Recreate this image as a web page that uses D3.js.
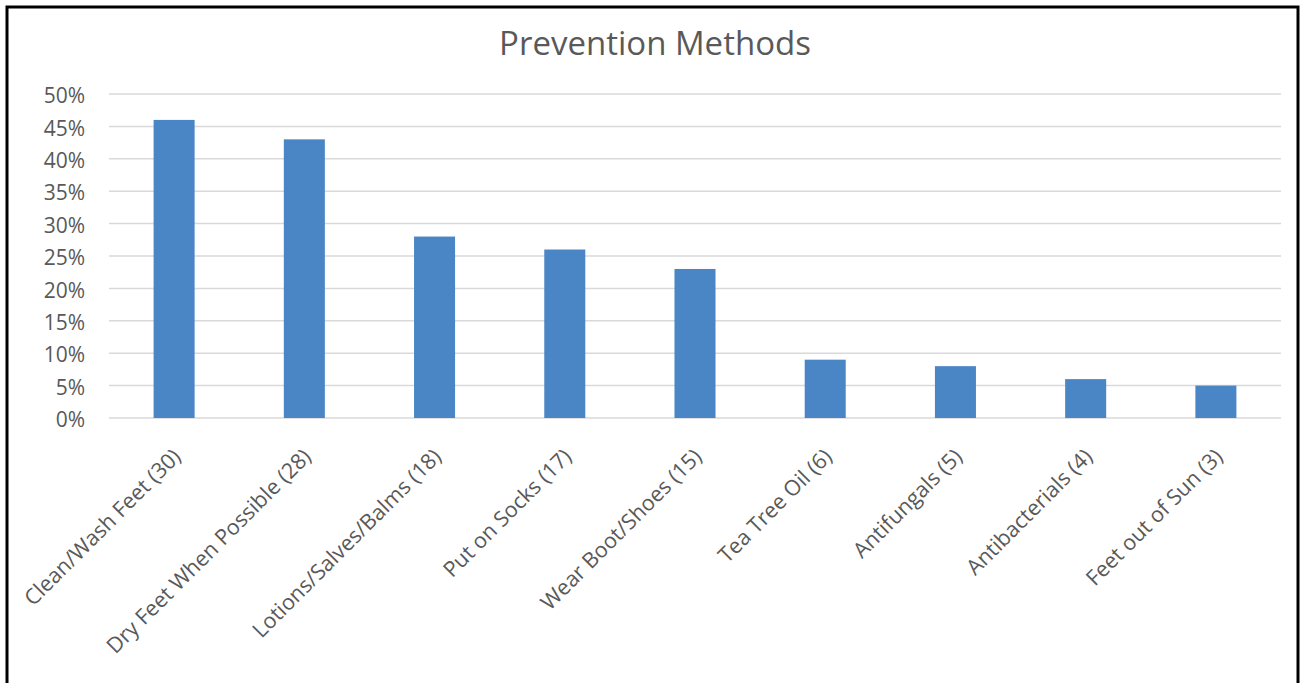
<!DOCTYPE html>
<html>
<head>
<meta charset="utf-8">
<script src="https://cdn.jsdelivr.net/npm/d3@7"></script>
<style>
  html, body { margin: 0; padding: 0; background: #fff; }
  svg { display: block; }
</style>
</head>
<body>
<svg id="chart" width="1306" height="683"></svg>
<script>
const categories = [
  "Clean/Wash Feet (30)",
  "Dry Feet When Possible (28)",
  "Lotions/Salves/Balms (18)",
  "Put on Socks (17)",
  "Wear Boot/Shoes (15)",
  "Tea Tree Oil (6)",
  "Antifungals (5)",
  "Antibacterials (4)",
  "Feet out of Sun (3)"
];
const values = [46, 43, 28, 26, 23, 9, 8, 6, 5];
const yTicks = [0, 5, 10, 15, 20, 25, 30, 35, 40, 45, 50];
const title = "Prevention Methods";

const svg = d3.select("#chart");
const textColor = "#595959";
const font = "'Open Sans', 'Noto Sans', sans-serif";

// outer frame
svg.append("rect")
  .attr("x", 7).attr("y", 7)
  .attr("width", 1291).attr("height", 700)
  .attr("fill", "#fff")
  .attr("stroke", "#000").attr("stroke-width", 3);

const plot = { left: 109, right: 1281, top: 94, bottom: 418 };

const x = d3.scaleBand()
  .domain(categories)
  .range([plot.left, plot.right])
  .paddingInner(0.685)
  .paddingOuter(0.3425);

const y = d3.scaleLinear()
  .domain([0, 50])
  .range([plot.bottom, plot.top]);

// gridlines
svg.append("g")
  .selectAll("line")
  .data(yTicks)
  .join("line")
  .attr("x1", plot.left).attr("x2", plot.right)
  .attr("y1", d => y(d)).attr("y2", d => y(d))
  .attr("stroke", "#d9d9d9").attr("stroke-width", 1.5);

// y axis labels
const yAxis = d3.axisLeft(y).tickValues(yTicks).tickFormat(d => d + "%").tickSize(0).tickPadding(0);
const yg = svg.append("g").attr("transform", `translate(${plot.left - 24},2)`).call(yAxis);
yg.select(".domain").remove();
yg.selectAll("text")
  .attr("fill", textColor)
  .style("font-family", font)
  .style("font-size", "21px");

// bars
svg.append("g")
  .selectAll("rect")
  .data(values)
  .join("rect")
  .attr("x", (d, i) => x(categories[i]))
  .attr("y", d => y(d))
  .attr("width", x.bandwidth())
  .attr("height", d => y(0) - y(d))
  .attr("fill", "#4a85c6");

// x axis labels
const xAxis = d3.axisBottom(x).tickSize(0).tickPadding(0);
const xg = svg.append("g").attr("transform", `translate(0,${plot.bottom})`).call(xAxis);
xg.select(".domain").remove();
xg.selectAll("text")
  .attr("fill", textColor)
  .style("font-family", font)
  .style("font-size", "21.5px")
  .attr("text-anchor", "end")
  .attr("dy", null)
  .attr("y", 0)
  .attr("transform", "translate(8,40) rotate(-45)");

// title
svg.append("text")
  .attr("x", 655).attr("y", 55)
  .attr("text-anchor", "middle")
  .attr("fill", textColor)
  .style("font-family", font)
  .style("font-size", "33px")
  .text(title);
</script>
</body>
</html>
